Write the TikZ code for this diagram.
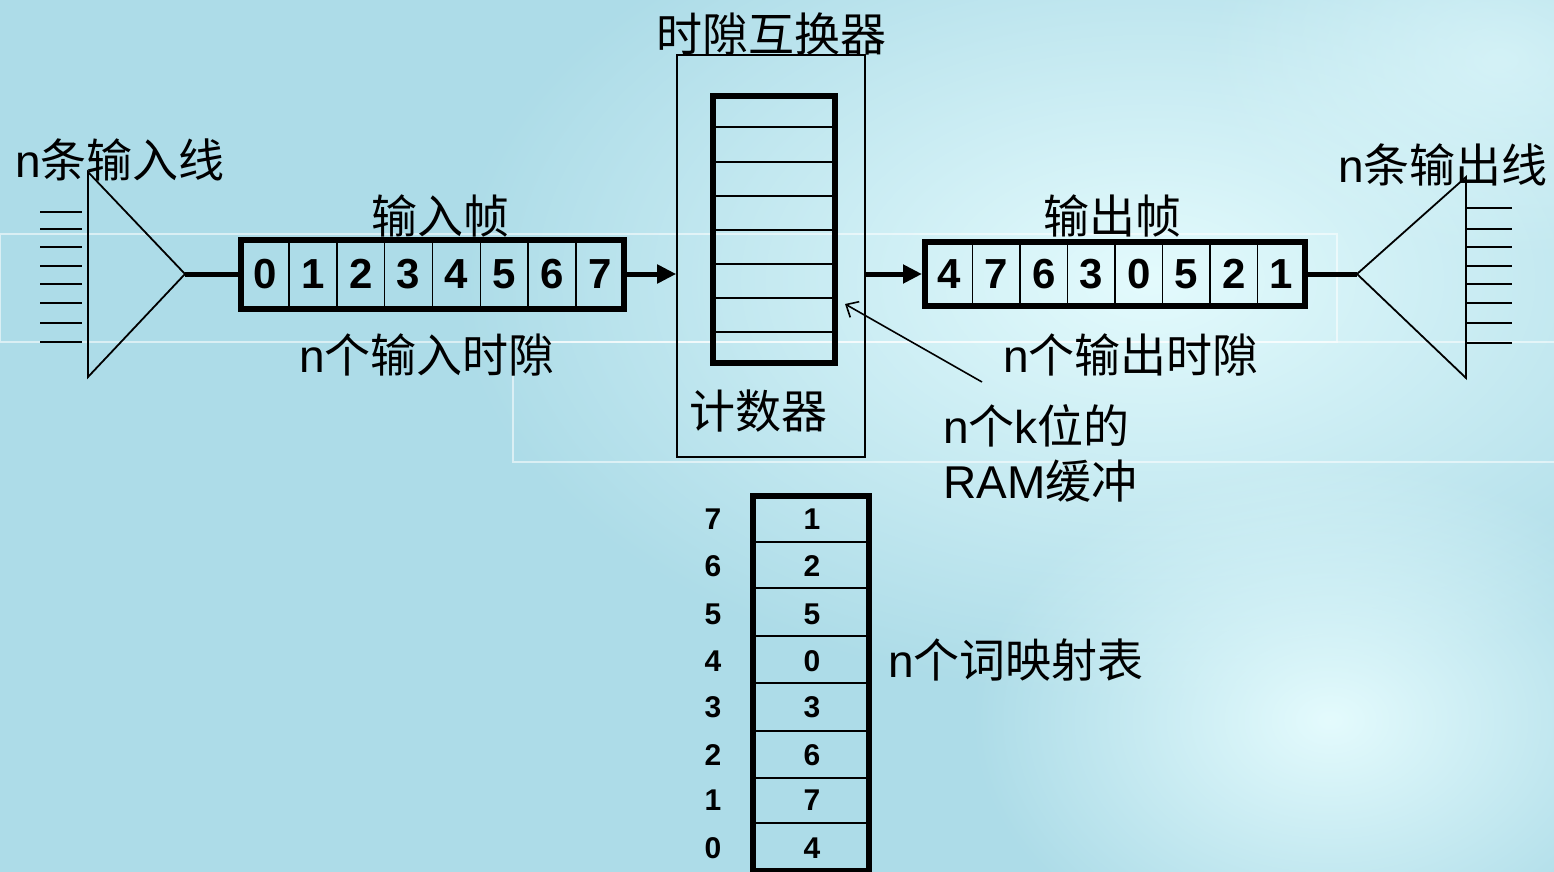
\documentclass[tikz,border=0pt]{standalone}
\usepackage{fontspec}
\setmainfont{Liberation Sans}
\newfontfamily\cjk{Noto Sans CJK SC}
\usetikzlibrary{arrows.meta,calc,fadings}
\definecolor{bgblue}{RGB}{173,220,232}
\definecolor{bglight}{RGB}{228,251,253}
\tikzfading[name=softglow, inner color=transparent!0, outer color=transparent!100]
\begin{document}
\begin{tikzpicture}[x=0.5pt,y=-0.5pt,
  lbl/.style={font=\fontsize{23}{27.5}\selectfont, inner sep=0pt},
  dig/.style={font=\fontsize{21}{24}\selectfont\bfseries, inner sep=0pt},
  sdig/.style={font=\fontsize{15}{17}\selectfont\bfseries, inner sep=0pt},
  framebox/.style={draw, line width=3pt, inner sep=0pt},
  thinbox/.style={draw, line width=0.8pt, inner sep=0pt},
  divider/.style={line width=0.8pt},
  wire/.style={line width=0.9pt},
  feed/.style={line width=2.5pt},
  bigarrow/.style={line width=2.5pt, -{Triangle[length=9.5pt,width=9pt]}},
  ptr/.style={line width=0.8pt, -{Straight Barb[length=5pt,width=9pt]}},
  deco/.style={white, opacity=0.55, line width=1pt},
  glow/.style={bglight, path fading=softglow},
]
\useasboundingbox (0,0) rectangle (1554,872);
% background
\fill[bgblue] (0,0) rectangle (1554,872);
\fill[glow] (1150,280) ellipse [x radius=700, y radius=420];
\fill[glow] (1330,720) ellipse [x radius=360, y radius=260];
\fill[glow, opacity=0.6] (1500,60) ellipse [x radius=300, y radius=200];
\draw[deco] (0,234) rectangle (1337,342);
\draw[deco] (513,342) rectangle (1560,462);

% left demultiplexer triangle
\coordinate (lt) at (88,172);
\coordinate (lb) at (88,377);
\coordinate (apL) at (185,274);
\draw[wire] (lt) -- (apL) -- (lb) -- cycle;
\foreach \yy in {212,229,247,266,284,303,323,342}
  \draw[wire] (40,\yy) -- (82,\yy);

% right triangle
\coordinate (rt) at (1466,177);
\coordinate (rb) at (1466,378);
\coordinate (apR) at (1357,274);
\draw[wire] (rt) -- (apR) -- (rb) -- cycle;
\foreach \yy in {208,229,247,266,284,303,323,343}
  \draw[wire] (1466,\yy) -- (1512,\yy);

% input frame
\node[framebox, minimum width=191.5pt, minimum height=34.5pt] (inframe) at (432.5,274) {};
\foreach \i in {1,...,7}
  \draw[divider] ({241+47.875*\i},239) -- ({241+47.875*\i},308);
\foreach \d [count=\i from 0] in {0,1,2,3,4,5,6,7}
  \node[dig] (in\i) at ({241+47.875*(\i+0.5)},274) {\d};

% central time slot interchanger
\node[thinbox, minimum width=94pt, minimum height=201pt] (tsi) at (771,256) {};
\node[framebox, minimum width=61pt, minimum height=133.5pt] (buf) at (774,229.5) {};
\foreach \yy in {127,162,196,230,264,298,332}
  \draw[divider] (713,\yy) -- (835,\yy);

% output frame
\node[framebox, minimum width=190pt, minimum height=32pt] (outframe) at (1115,274) {};
\foreach \i in {1,...,7}
  \draw[divider] ({925+47.5*\i},242) -- ({925+47.5*\i},306);
\foreach \d [count=\i from 0] in {4,7,6,3,0,5,2,1}
  \node[dig] (out\i) at ({925+47.5*(\i+0.5)},274) {\d};

% connectors
\draw[feed] (apL) -- (inframe.west);
\draw[bigarrow] (inframe.east) -- (inframe.east -| tsi.west);
\draw[bigarrow] (tsi.east |- outframe.west) -- (outframe.west);
\draw[feed] (outframe.east) -- (apR);

% RAM pointer
\coordinate (ramtail) at (982,382);
\coordinate (ramhead) at (845,304);
\draw[ptr] (ramtail) -- (ramhead);

% mapping table
\node[framebox, minimum width=58pt, minimum height=187.5pt] (maptab) at (811,683.5) {};
\foreach \yy in {542,588,636,683,731,778,823}
  \draw[divider] (753,\yy) -- (869,\yy);
\foreach \v/\k/\yy in {1/7/519, 2/6/566, 5/5/614, 0/4/661, 3/3/707, 6/2/755, 7/1/800, 4/0/848} {
  \node[sdig] (mv\k) at (812,\yy) {\v};
  \node[sdig] (mk\k) at (713,\yy) {\k};
}

% labels
\node[lbl] (linL) at (120,160) {n{\cjk 条输入线}};
\node[lbl] (title) at (771,34) {\cjk 时隙互换器};
\node[lbl] (inf) at (440,216) {\cjk 输入帧};
\node[lbl] (ins) at (427,355) {n{\cjk 个输入时隙}};
\node[lbl] (outf) at (1112,216) {\cjk 输出帧};
\node[lbl] (outs) at (1131,355) {n{\cjk 个输出时隙}};
\node[lbl] (linR) at (1443,165) {n{\cjk 条输出线}};
\node[lbl] (cnt) at (758,411) {\cjk 计数器};
\node[lbl, align=left, anchor=west] (ram) at (943,453) {n{\cjk 个}k{\cjk 位的}\\RAM{\cjk 缓冲}};
\node[lbl] (mapl) at (1016,660) {n{\cjk 个词映射表}};
\end{tikzpicture}
\end{document}
